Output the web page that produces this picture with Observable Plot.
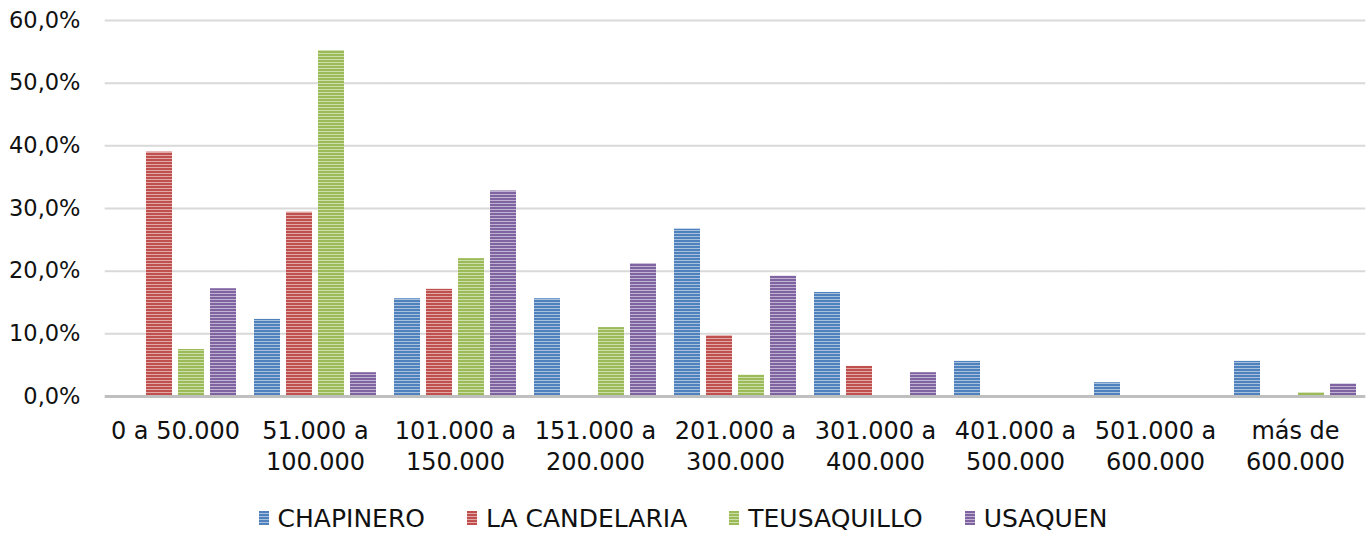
<!DOCTYPE html>
<html><head><meta charset="utf-8">
<script src="https://cdn.jsdelivr.net/npm/d3@7"></script>
<script src="https://cdn.jsdelivr.net/npm/@observablehq/plot@0.6"></script>
<style>
body{margin:0;background:#fff;font-family:"DejaVu Sans", sans-serif;}
#legend{display:flex;justify-content:center;align-items:center;height:56px;font-size:25px;color:#111;padding-left:0}
#legend .item{display:flex;align-items:center;margin:0 21px}
#legend .sw{width:10px;height:14px;margin-right:9px}
</style></head><body><div id="chart"></div><div id="legend"></div>
<script>
const categories = ["0 a 50.000", "51.000 a\n100.000", "101.000 a\n150.000", "151.000 a\n200.000", "201.000 a\n300.000", "301.000 a\n400.000", "401.000 a\n500.000", "501.000 a\n600.000", "más de\n600.000"];
const seriesNames = ["CHAPINERO", "LA CANDELARIA", "TEUSAQUILLO", "USAQUEN"];
const chapinero   = [0, 12.3, 15.6, 15.6, 26.7, 16.6, 5.6, 2.2, 5.6];
const candelaria  = [39.0, 29.4, 17.1, 0, 9.7, 4.8, 0, 0, 0];
const teusaquillo = [7.5, 55.2, 22.0, 11.0, 3.4, 0, 0, 0, 0.6];
const usaquen     = [17.2, 3.8, 32.8, 21.2, 19.2, 3.8, 0, 0, 2.0];
const seriesColors = ["#4F81BD", "#C0504D", "#9BBB59", "#8064A2"];
const yTicks = [0, 10, 20, 30, 40, 50, 60];

const seriesValues = [chapinero, candelaria, teusaquillo, usaquen];
const rows = [];
categories.forEach((c, i) => seriesValues.forEach((arr, j) => rows.push({category: c, series: seriesNames[j], value: arr[i]})));

const FONT = "'DejaVu Sans', sans-serif";
const ext = -9.3;
const chart = Plot.plot({
  width: 1366, height: 490,
  marginTop: 20, marginLeft: 104, marginRight: 0, marginBottom: 94,
  style: {fontFamily: FONT, fontSize: "22.5px", color: "#111", background: "#fff"},
  fx: {domain: categories, axis: null, paddingInner: 0.13, paddingOuter: 0.065},
  x: {domain: seriesNames, axis: null, paddingInner: 0.19, paddingOuter: 0},
  y: {domain: [0, 60], ticks: yTicks, tickSize: 0, tickPadding: 34, label: null,
      tickFormat: d => d.toFixed(1).replace(".", ",") + "%"},
  color: {domain: seriesNames, range: seriesNames.map((_, i) => `url(#stripe${i})`)},
  marks: [
    Plot.ruleY(yTicks.filter(d => d > 0), {y: d => d, stroke: "#d9d9d9", strokeWidth: 2, insetLeft: ext, insetRight: ext}),
    Plot.barY(rows, {fx: "category", x: "series", y: "value", fill: "series", inset: 0}),
    Plot.ruleY([0], {stroke: "#bfbfbf", strokeWidth: 3, insetLeft: ext, insetRight: ext}),
    Plot.text(categories, {fx: d => d, text: d => d, frameAnchor: "bottom", lineAnchor: "top",
      dy: 21, lineHeight: 1.28, fontSize: 24, fill: "#111"})
  ]
});

// stripe patterns
const defs = d3.select(chart).insert("defs", ":first-child");
seriesColors.forEach((c, i) => {
  const light = d3.interpolateRgb(c, "#fff")(0.5);
  const p = defs.append("pattern").attr("id", `stripe${i}`).attr("patternUnits", "userSpaceOnUse")
    .attr("width", 8).attr("height", 3);
  p.append("rect").attr("width", 8).attr("height", 3).attr("fill", c);
  p.append("rect").attr("y", 2).attr("width", 8).attr("height", 1).attr("fill", light);
});
document.getElementById("chart").appendChild(chart);

const legend = document.getElementById("legend");
seriesNames.forEach((s, i) => {
  const it = document.createElement("div"); it.className = "item";
  const sw = document.createElement("div"); sw.className = "sw";
  sw.style.background = `repeating-linear-gradient(to bottom, ${seriesColors[i]} 0 2px, ${d3.interpolateRgb(seriesColors[i], "#fff")(0.5)} 2px 3px)`;
  const t = document.createElement("span"); t.textContent = s;
  it.appendChild(sw); it.appendChild(t); legend.appendChild(it);
});
</script></body></html>
